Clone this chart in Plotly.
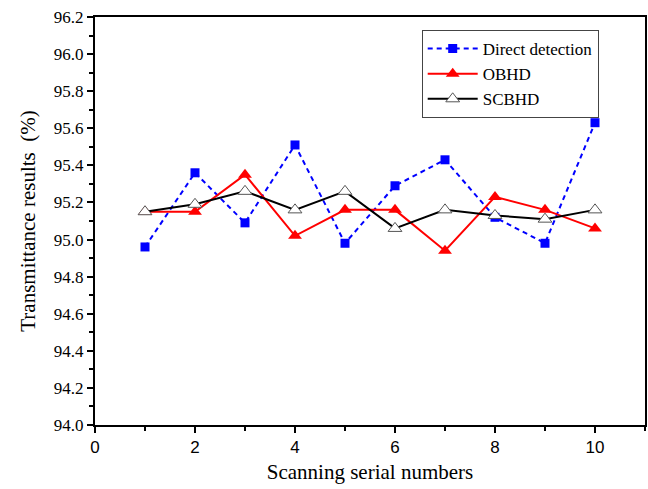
import plotly.graph_objects as go

scan = [1, 2, 3, 4, 5, 6, 7, 8, 9, 10]
direct = [94.96, 95.36, 95.09, 95.51, 94.98, 95.29, 95.43, 95.12, 94.98, 95.63]
obhd = [95.15, 95.15, 95.35, 95.02, 95.16, 95.16, 94.94, 95.23, 95.16, 95.06]
scbhd = [95.15, 95.19, 95.26, 95.16, 95.26, 95.06, 95.16, 95.13, 95.11, 95.16]

fig = go.Figure()
fig.add_trace(go.Scatter(x=scan, y=direct, name="Direct detection", mode="lines+markers",
                         line=dict(color="#0000ff", width=2, dash="5px,4px"),
                         marker=dict(symbol="square", size=9, color="#0000ff")))
fig.add_trace(go.Scatter(x=scan, y=obhd, name="OBHD", mode="lines+markers",
                         line=dict(color="#ff0000", width=2),
                         marker=dict(symbol="triangle-up", size=12, color="#ff0000")))
fig.add_trace(go.Scatter(x=scan, y=scbhd, name="SCBHD", mode="lines+markers",
                         line=dict(color="#000000", width=2),
                         marker=dict(symbol="triangle-up", size=12, color="white",
                                     line=dict(color="#555555", width=1))))

serif = "Liberation Serif, Times New Roman, serif"
sans = "Liberation Sans, Arial, sans-serif"

fig.update_layout(
    width=648, height=489,
    margin=dict(l=95, r=1, t=17, b=64),
    paper_bgcolor="white", plot_bgcolor="white",
    showlegend=True,
    legend=dict(x=0.594, y=0.968, xanchor="left", yanchor="top",
                bordercolor="#444444", borderwidth=1, bgcolor="white",
                font=dict(family=serif, size=17, color="black"),
                tracegroupgap=0, itemwidth=50),
    xaxis=dict(range=[0, 11], dtick=2, tick0=0, showgrid=False, zeroline=False,
               showline=True, linecolor="black", linewidth=2, mirror=True,
               ticks="outside", ticklen=6, tickwidth=2, tickcolor="black",
               minor=dict(dtick=1, ticks="outside", ticklen=4, tickwidth=2, tickcolor="black", showgrid=False),
               tickfont=dict(family=sans, size=17, color="black"),
               title=dict(text="Scanning serial numbers", font=dict(family=serif, size=21, color="black"), standoff=8)),
    yaxis=dict(range=[94.0, 96.2], dtick=0.2, tick0=94.0, tickformat=".1f", showgrid=False, zeroline=False,
               showline=True, linecolor="black", linewidth=2, mirror=True,
               ticks="outside", ticklen=6, tickwidth=2, tickcolor="black",
               minor=dict(dtick=0.1, ticks="outside", ticklen=4, tickwidth=2, tickcolor="black", showgrid=False),
               tickfont=dict(family=serif, size=17, color="black"),
               title=dict(text="Transmittance results  (%)", font=dict(family=serif, size=21, color="black"), standoff=12)),
)

fig.write_html("out.html")
